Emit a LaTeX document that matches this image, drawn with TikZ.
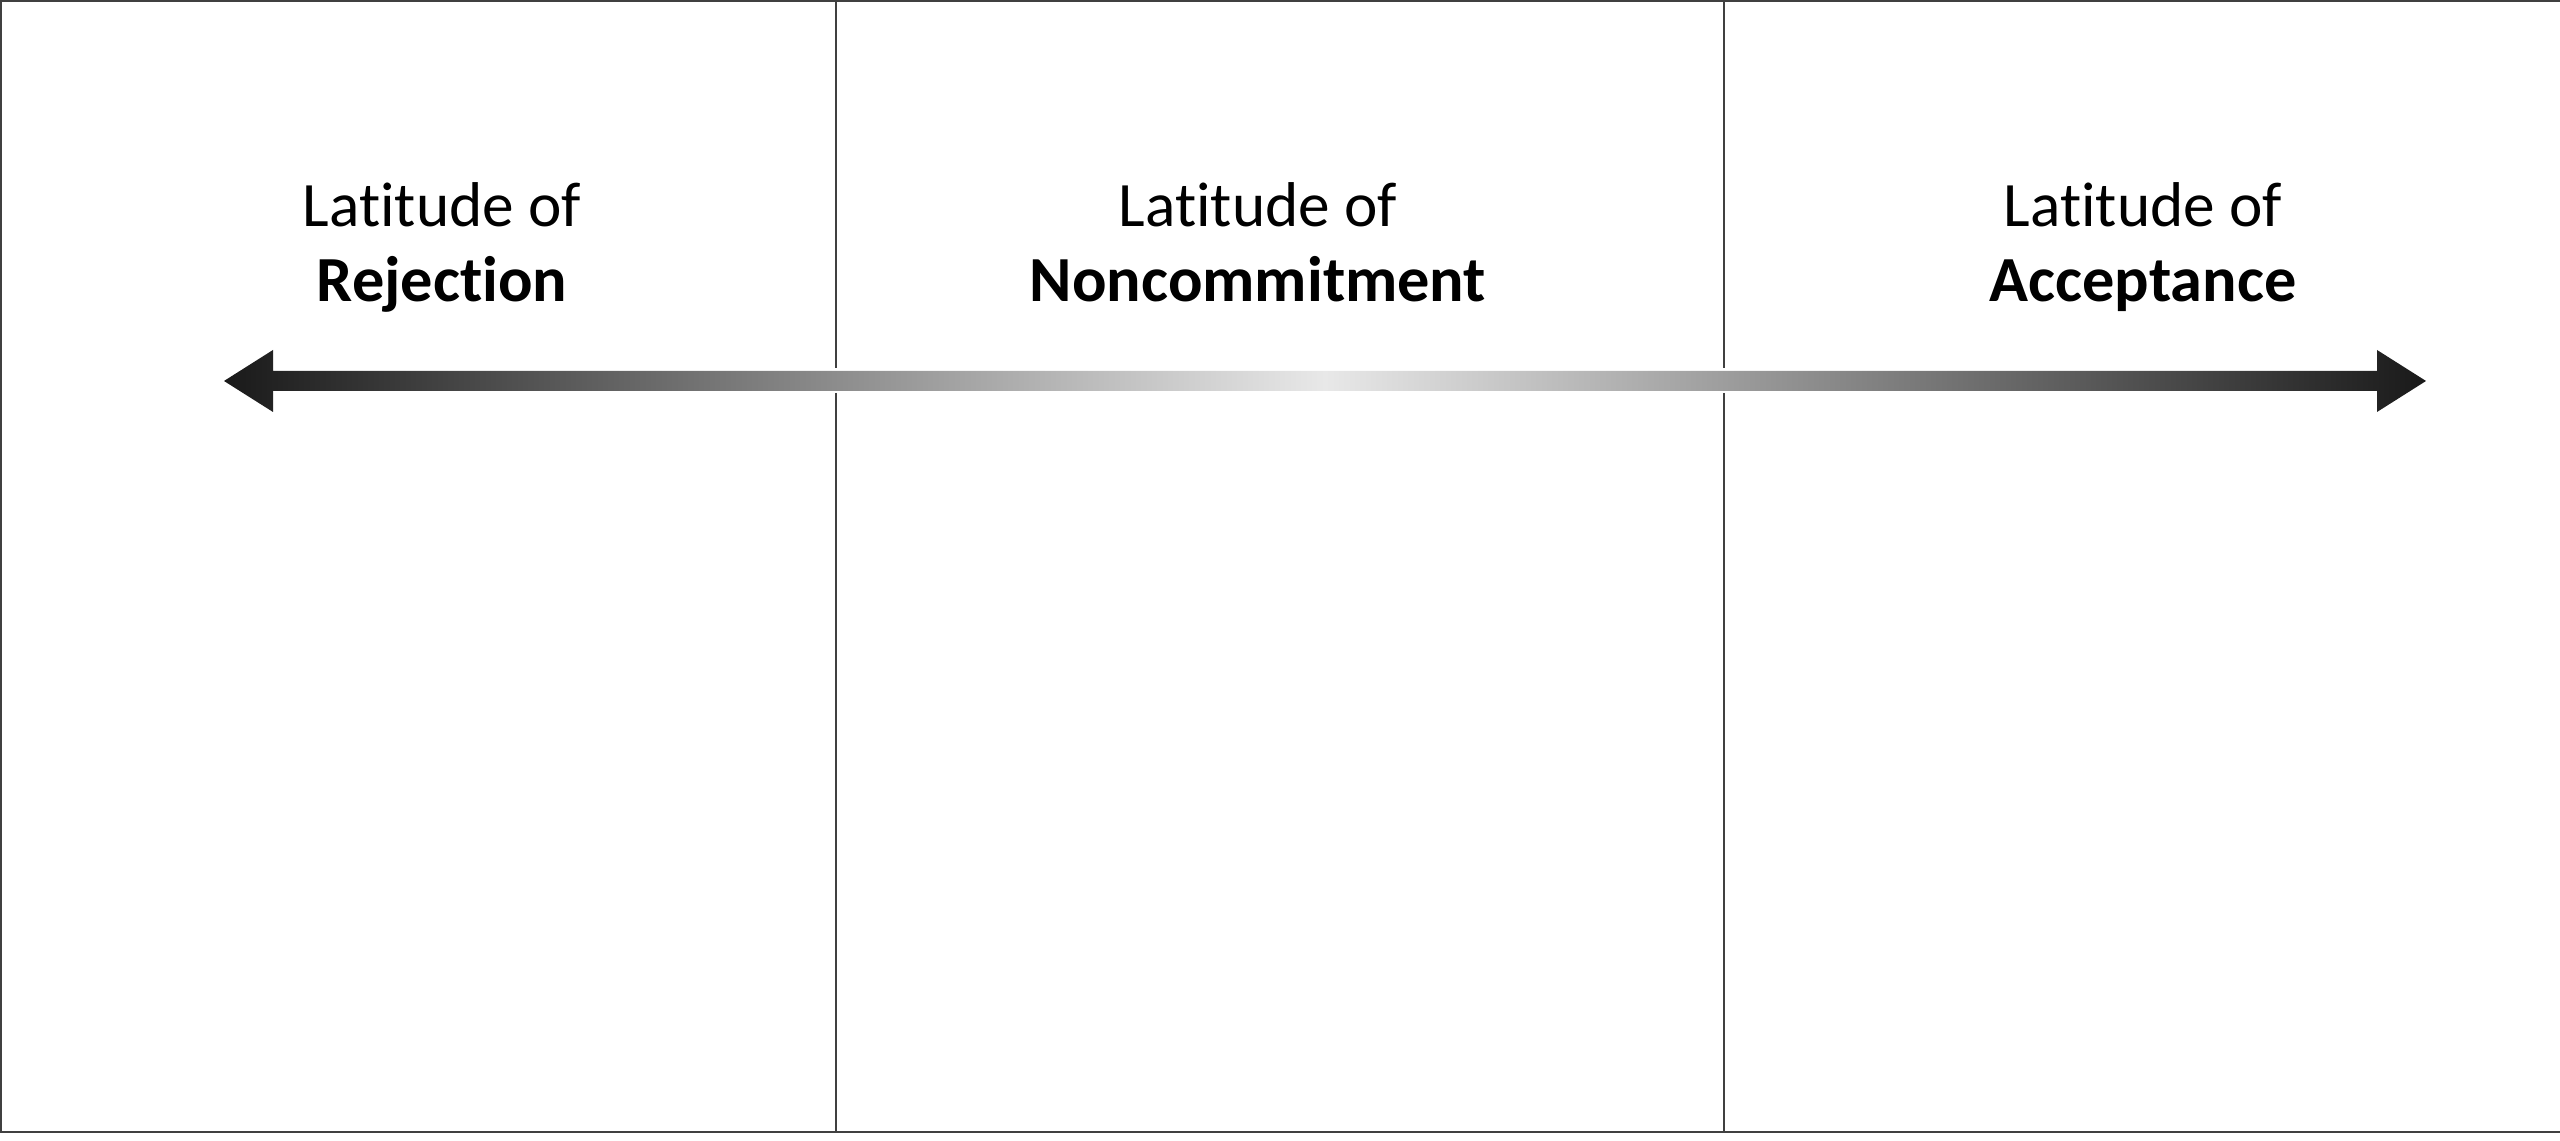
\documentclass[tikz,border=0pt]{standalone}
\usepackage{fontspec}
\setmainfont{Carlito}[Ligatures=NoCommon]
\usetikzlibrary{positioning}
\pgfdeclarehorizontalshading{latshade}{100bp}{color(0bp)=(black!90); color(25bp)=(black!90); color(50bp)=(black!9); color(75bp)=(black!90); color(100bp)=(black!90)}
\tikzset{
    latitude/.style={anchor=base, inner sep=0pt, font=\fontsize{18}{20}\selectfont},
    zone/.style={latitude, font=\fontsize{18.3}{20}\selectfont\bfseries},
    divider/.style={draw=black!75, line width=0.6pt},
}

\begin{document}
\begin{tikzpicture}
        \useasboundingbox (0,0) rectangle (25.6,11.41);
        \draw[divider] (25.6,11.40) -- (0.01,11.40) -- (0.01,0.09) -- (25.6,0.09);
        \draw[divider] (8.36,11.41) -- (8.36,7.73) (8.36,7.48) -- (8.36,0.09);
        \draw[divider] (17.24,11.41) -- (17.24,7.73) (17.24,7.48) -- (17.24,0.09);

        \node[latitude] (rejLat) at (4.42,9.14) {Latitude of};
        \node[zone] (rej) at (4.42,8.39) {Rejection};
        \node[latitude] (nonLat) at (12.58,9.14) {Latitude of};
        \node[zone] (non) at (12.58,8.39) {Noncommitment};
        \node[latitude] (accLat) at (21.43,9.14) {Latitude of};
        \node[zone] (acc) at (21.43,8.39) {Acceptance};

        \coordinate (tipL) at (2.24,7.60);
        \coordinate (tipR) at (24.26,7.60);
        \shade[shading=latshade] (tipL) -- ++(0.49,0.31) -- ++(0,-0.21) -- ++(21.04,0) -- ++(0,0.21)
              -- (tipR) -- ++(-0.49,-0.31) -- ++(0,0.21) -- ++(-21.04,0) -- ++(0,-0.21) -- cycle;
    \end{tikzpicture}
\end{document}
